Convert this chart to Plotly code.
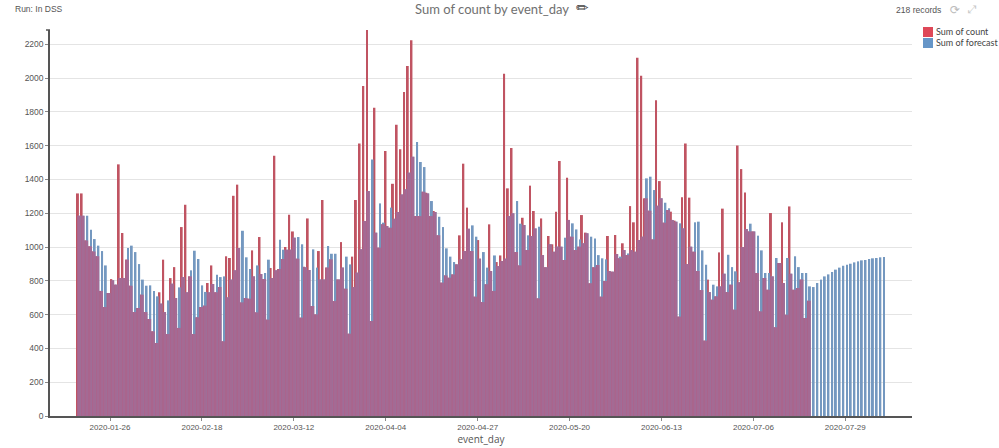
import plotly.graph_objects as go

# Values, one per bar slot
count = [
    1317, 1317, 1039, 1004, 974, 945, 740, 645, 728, 810,
    777, 1489, 1083, 925, 771, 615, 639, 718, 615, 574,
    501, 432, 732, 925, 485, 816, 881, 521, 1118, 1250,
    826, 485, 584, 645, 653, 787, 891, 732, 763, 442,
    945, 935, 1303, 1369, 672, 698, 694, 980, 613, 1059,
    810, 570, 876, 1540, 870, 929, 1000, 1191, 1092, 931,
    582, 883, 1169, 651, 601, 976, 1278, 878, 927, 680,
    808, 1029, 753, 487, 943, 1278, 1613, 1952, 2288, 562,
    1824, 996, 1134, 1568, 1114, 1374, 1723, 1578, 1917, 2071,
    2224, 1183, 1183, 1327, 1321, 1183, 1213, 1069, 789, 832,
    818, 838, 897, 1069, 1493, 1233, 976, 706, 1041, 674,
    779, 1134, 740, 911, 950, 2025, 1347, 1586, 970, 891,
    1173, 982, 1363, 1213, 696, 1169, 880, 1065, 1016, 1209,
    1509, 923, 1410, 1061, 982, 1002, 1189, 1085, 785, 880,
    893, 706, 799, 1065, 854, 1071, 933, 1022, 952, 1242,
    1146, 2120, 2013, 1288, 1215, 1045, 1869, 1390, 1144, 1219,
    1209, 1156, 588, 1294, 1613, 1292, 972, 858, 745, 446,
    807, 688, 708, 968, 1227, 733, 777, 629, 1601, 1461,
    1323, 1092, 1092, 846, 619, 816, 747, 1201, 525, 905,
    1146, 599, 1240, 747, 757, 807, 580, 682,
]
forecast = [
    1185, 1185, 1185, 1102, 1047, 1008, 976, 891, 728, 803,
    777, 816, 816, 994, 1008, 970, 899, 807, 771, 773,
    740, 708, 665, 615, 684, 783, 698, 761, 822, 732,
    862, 978, 929, 773, 734, 732, 781, 836, 822, 826,
    702, 807, 862, 994, 1096, 939, 870, 826, 891, 840,
    846, 925, 816, 862, 1043, 984, 984, 984, 1055, 1059,
    1016, 880, 864, 986, 878, 808, 808, 1006, 960, 960,
    808, 878, 943, 897, 763, 848, 986, 1154, 1331, 1518,
    1085, 1258, 1144, 1124, 1233, 1167, 1207, 1311, 1341, 1440,
    1534, 1621, 1503, 1473, 1317, 1272, 1207, 1179, 1118, 992,
    943, 911, 897, 927, 976, 1108, 1128, 1061, 931, 970,
    878, 858, 950, 887, 917, 931, 1183, 1199, 1272, 1138,
    1130, 1069, 1065, 1110, 1120, 952, 880, 1016, 972, 1002,
    1002, 1055, 1160, 1140, 1104, 1045, 1022, 1081, 1061, 1051,
    952, 933, 927, 858, 854, 958, 943, 982, 962, 982,
    972, 1041, 1061, 1406, 1416, 1337, 1244, 1288, 1262, 1229,
    1160, 1150, 1140, 1110, 899, 1002, 1146, 1150, 980, 895,
    733, 777, 767, 767, 842, 954, 881, 856, 791, 1000,
    1106, 1138, 1092, 1067, 980, 846, 846, 826, 935, 905,
    787, 935, 842, 945, 881, 846, 846, 767,
    763, 787, 807, 826, 838, 852, 866, 878, 889, 895,
    901, 909, 915, 921, 923, 929, 933, 935, 939, 941,
]
bar_slots = list(range(len(forecast)))

tick_slots = [8.4, 33.2, 58, 82.8, 107.6, 132.4, 157.2, 182, 206.8]
tick_labels = ["2020-01-26", "2020-02-18", "2020-03-12", "2020-04-04", "2020-04-27",
               "2020-05-20", "2020-06-13", "2020-07-06", "2020-07-29"]

# Where both series are present the two thin bars read as one purple band
overlap = [min(c, f) for c, f in zip(count, forecast)]

RED = "rgb(192,84,98)"
BLUE = "rgb(116,152,192)"

W, H = 999, 448
LEFT, RIGHT, TOP, BOTTOM = 50, 912, 30, 416


# paper coords are relative to the plot area, so convert from picture pixels
def px(x):
    return (x - LEFT) / (RIGHT - LEFT)


def py(y):
    return (BOTTOM - y) / (BOTTOM - TOP)


fig = go.Figure()
fig.add_trace(go.Bar(x=bar_slots[:len(count)], y=count, name="Sum of count",
                     marker=dict(color=RED, line_width=0), width=0.52, offset=-0.52))
fig.add_trace(go.Bar(x=bar_slots, y=forecast, name="Sum of forecast",
                     marker=dict(color=BLUE, line_width=0), width=0.52, offset=0))
fig.add_trace(go.Bar(x=bar_slots[:len(count)], y=overlap, name="overlap", showlegend=False,
                     marker=dict(color="rgba(168,102,144,0.92)", line_width=0), width=1, offset=-0.5))

notes = [
    dict(text="Run: In DSS", x=13, y=8.5, xanchor="left", size=8.5, color="#555555", family="Liberation Sans"),
    dict(text="Sum of count by event_day", x=492, y=8.5, xanchor="center", size=13, color="#707070", family="Lato"),
    dict(text="\u270f", x=582, y=8, xanchor="center", size=15, color="#444444", family="DejaVu Sans"),
    dict(text="218 records", x=894, y=9.5, xanchor="left", size=8.6, color="#555555", family="Liberation Sans"),
    dict(text="\u27f3", x=955, y=9.5, xanchor="center", size=12, color="#bcbcbc", family="DejaVu Sans"),
    dict(text="\u2922", x=972, y=9.5, xanchor="center", size=11, color="#c8c8c8", family="DejaVu Sans"),
    dict(text="Sum of count", x=934, y=31, xanchor="left", size=9, color="#444444", family="Lato"),
    dict(text="Sum of forecast", x=934, y=42.5, xanchor="left", size=9, color="#444444", family="Lato"),
]
annotations = [
    dict(text=n["text"], x=px(n["x"]), y=py(n["y"]), xref="paper", yref="paper",
         xanchor=n["xanchor"], yanchor="middle", showarrow=False,
         font=dict(size=n["size"], color=n["color"], family=n["family"]))
    for n in notes
]

shapes = [
    dict(type="rect", xref="paper", yref="paper", x0=px(923), x1=px(933), y0=py(27), y1=py(37),
         fillcolor="rgb(222,72,88)", line_width=0),
    dict(type="rect", xref="paper", yref="paper", x0=px(923), x1=px(933), y0=py(38), y1=py(48),
         fillcolor="rgb(102,150,200)", line_width=0),
    dict(type="line", xref="paper", yref="paper", x0=px(46), x1=px(50), y0=py(30), y1=py(30),
         line=dict(color="#555555", width=1.5)),
]

fig.update_layout(
    width=W,
    height=H,
    barmode="overlay",
    showlegend=False,
    plot_bgcolor="white",
    paper_bgcolor="white",
    margin=dict(l=LEFT, r=W - RIGHT, t=TOP, b=H - BOTTOM, pad=0),
    font=dict(family="Liberation Sans", color="#555555"),
    annotations=annotations,
    shapes=shapes,
    xaxis=dict(
        automargin=False,
        range=[-7.8, 224.8],
        tickmode="array",
        tickvals=tick_slots,
        ticktext=tick_labels,
        tickfont=dict(size=8, color="#555555"),
        ticks="outside",
        ticklen=3,
        tickcolor="#888888",
        showgrid=False,
        zeroline=False,
        showline=True,
        linecolor="#555555",
        linewidth=1.5,
        title=dict(text="event_day", font=dict(size=10, color="#555555", family="Open Sans"), standoff=1),
    ),
    yaxis=dict(
        automargin=False,
        range=[0, 2284],
        tickmode="array",
        tickvals=list(range(0, 2400, 200)),
        tickfont=dict(size=8.5, color="#555555"),
        ticks="outside",
        ticklen=3,
        tickcolor="#888888",
        showgrid=True,
        gridcolor="#e4e4e4",
        gridwidth=1,
        zeroline=False,
        showline=True,
        linecolor="#555555",
        linewidth=1.5,
    ),
)

# drop the default body margin so the figure fills the window exactly
fig.write_html("out.html", config=dict(displayModeBar=False),
               post_script="document.body.style.margin = '0';")
